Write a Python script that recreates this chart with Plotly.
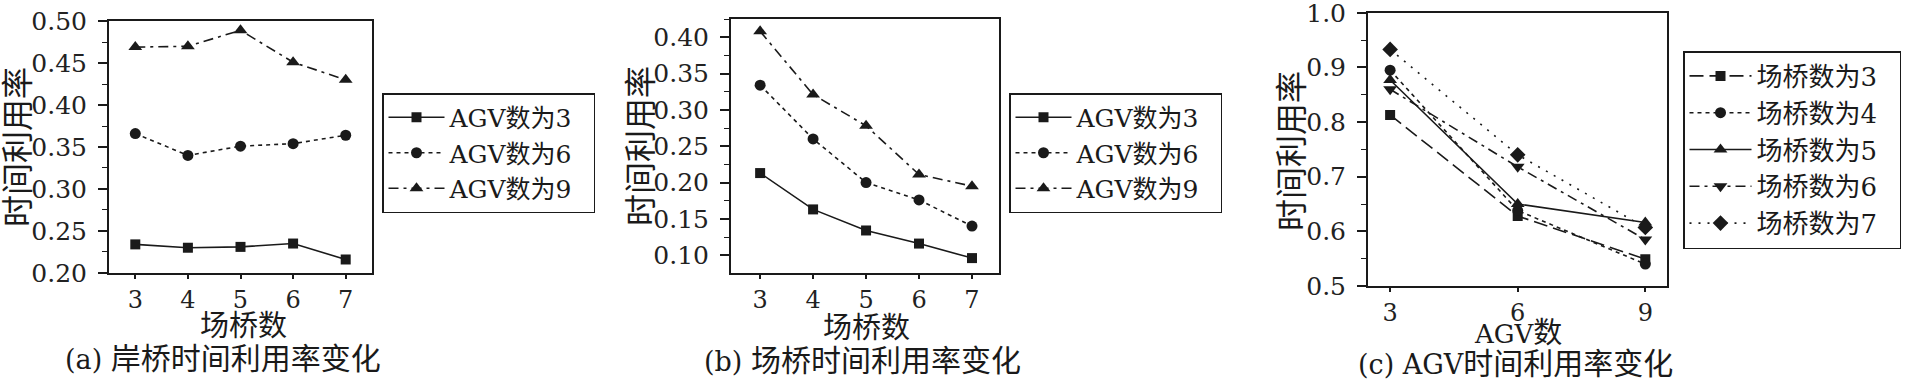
import plotly.graph_objects as go

W, H = 1913, 380

# ---------------- data ----------------
qc_x = [3, 4, 5, 6, 7]                      # 场桥数 (panel a)
qc_agv3 = [0.234, 0.230, 0.231, 0.235, 0.216]
qc_agv6 = [0.366, 0.340, 0.351, 0.354, 0.364]
qc_agv9 = [0.469, 0.470, 0.489, 0.451, 0.430]

yc_x = [3, 4, 5, 6, 7]                      # 场桥数 (panel b)
yc_agv3 = [0.213, 0.163, 0.134, 0.116, 0.096]
yc_agv6 = [0.334, 0.260, 0.200, 0.176, 0.140]
yc_agv9 = [0.408, 0.321, 0.278, 0.211, 0.195]

agv_x = [3, 6, 9]                           # AGV数 (panel c)
agv_yc3 = [0.813, 0.628, 0.549]
agv_yc4 = [0.895, 0.638, 0.540]
agv_yc5 = [0.877, 0.650, 0.616]
agv_yc6 = [0.860, 0.718, 0.585]
agv_yc7 = [0.933, 0.740, 0.607]

names_ab = ["AGV数为3", "AGV数为6", "AGV数为9"]
names_c = ["场桥数为3", "场桥数为4", "场桥数为5", "场桥数为6", "场桥数为7"]

FONT = "DejaVu Serif, Noto Sans CJK SC, serif"
INK = "#1a1a1a"
PAD = "\u00a0\u00a0"

def px(x):
    return x / W

def py(y):
    return 1 - y / H

def lat(t, s):
    return f"<span style='font-size:{s}px'>{t}</span>"

fig = go.Figure()

styles_ab = [
    dict(dash="solid", symbol="square", size=10),
    dict(dash="4px,4px", symbol="circle", size=11),
    dict(dash="10px,5px,3px,5px", symbol="triangle-up", size=12),
]

def add(xs, ys, name, st, xa, ya, legend):
    fig.add_trace(go.Scatter(
        x=xs, y=ys, name=name + PAD, mode="lines+markers",
        line=dict(color=INK, width=1.6, dash=st["dash"]),
        marker=dict(symbol=st["symbol"], size=st["size"], color=INK),
        xaxis=xa, yaxis=ya, legend=legend,
    ))

for ys, n, st in zip([qc_agv3, qc_agv6, qc_agv9], names_ab, styles_ab):
    add(qc_x, ys, n, st, "x", "y", "legend")
for ys, n, st in zip([yc_agv3, yc_agv6, yc_agv9], names_ab, styles_ab):
    add(yc_x, ys, n, st, "x2", "y2", "legend2")

styles_c = [
    dict(dash="14px,6px", symbol="square", size=10),
    dict(dash="4px,4px", symbol="circle", size=11),
    dict(dash="solid", symbol="triangle-up", size=12),
    dict(dash="10px,5px,3px,5px", symbol="triangle-down", size=12),
    dict(dash="2px,7px", symbol="diamond", size=12),
]
for ys, n, st in zip([agv_yc3, agv_yc4, agv_yc5, agv_yc6, agv_yc7], names_c, styles_c):
    add(agv_x, ys, n, st, "x3", "y3", "legend3")

tickfont = dict(family=FONT, size=24, color="#222")

def xax(domain, rng, tickvals, anchor):
    return dict(domain=domain, range=rng, tickvals=tickvals, ticks="outside",
                ticklen=4, tickwidth=1.5, tickcolor=INK, showline=True, linecolor=INK,
                linewidth=2, mirror=True, showgrid=False, zeroline=False,
                tickfont=tickfont, anchor=anchor, ticklabeloverflow="allow")

def yax(domain, rng, dtick, fmt, minor_dtick, tick0, anchor):
    return dict(domain=domain, range=rng, dtick=dtick, tick0=tick0, tickformat=fmt,
                ticks="outside", ticklen=9, tickwidth=1.5, tickcolor=INK,
                ticklabelstandoff=6, ticklabeloverflow="allow",
                minor=dict(dtick=minor_dtick, tick0=tick0, ticks="outside", ticklen=5,
                           tickwidth=1.2, tickcolor=INK, showgrid=False),
                showline=True, linecolor=INK, linewidth=2, mirror=True,
                showgrid=False, zeroline=False, tickfont=dict(tickfont, size=25),
                anchor=anchor)

def leg(x, y, iw, fs=25):
    return dict(x=px(x), y=py(y), xref="paper", yref="paper",
                xanchor="left", yanchor="top", bgcolor="white",
                bordercolor=INK, borderwidth=1.5,
                font=dict(family=FONT, size=fs, color=INK),
                tracegroupgap=0, itemwidth=iw)

fig.update_layout(
    width=W, height=H, margin=dict(l=0, r=0, t=0, b=0, autoexpand=False),
    paper_bgcolor="white", plot_bgcolor="white",
    font=dict(family=FONT, color=INK),
    xaxis=xax([px(109), px(372)], [2.5, 7.5], qc_x, "y"),
    yaxis=yax([py(273), py(21)], [0.1999, 0.5001], 0.05, ".2f", 0.025, 0.20, "x"),
    xaxis2=xax([px(731), px(999)], [2.45, 7.51], yc_x, "y2"),
    yaxis2=yax([py(273), py(19)], [0.0755, 0.425], 0.05, ".2f", 0.025, 0.10, "x2"),
    xaxis3=xax([px(1368), px(1667)], [2.48, 9.51], agv_x, "y3"),
    yaxis3=yax([py(286), py(12.7)], [0.4999, 1.0002], 0.1, ".1f", 0.05, 0.5, "x3"),
    legend=leg(382, 93, 56),
    legend2=leg(1009, 93, 56),
    legend3=leg(1683, 51, 62, 26),
)

def ann(text, x, y, size, angle=0):
    fig.add_annotation(text=text, x=px(x), y=py(y), xref="paper", yref="paper",
                       showarrow=False, xanchor="center", yanchor="middle",
                       textangle=angle, font=dict(family=FONT, size=size, color=INK))

ann("时间利用率", 18, 147, 32, -90)
ann("时间利用率", 641, 146, 32, -90)
ann("时间利用率", 1292, 151, 32, -90)
ann("场桥数", 243, 326, 29)
ann("场桥数", 866, 328, 29)
ann(lat("AGV", 26) + "数", 1518, 333, 29)
ann(lat("(a) ", 27) + "岸桥时间利用率变化", 223, 358, 30)
ann(lat("(b) ", 27) + "场桥时间利用率变化", 862, 360, 30)
ann(lat("(c) AGV", 27) + "时间利用率变化", 1515, 363, 30)

fig.write_html("out.html", config={"displayModeBar": False},
               post_script="document.body.style.margin='0px';")
